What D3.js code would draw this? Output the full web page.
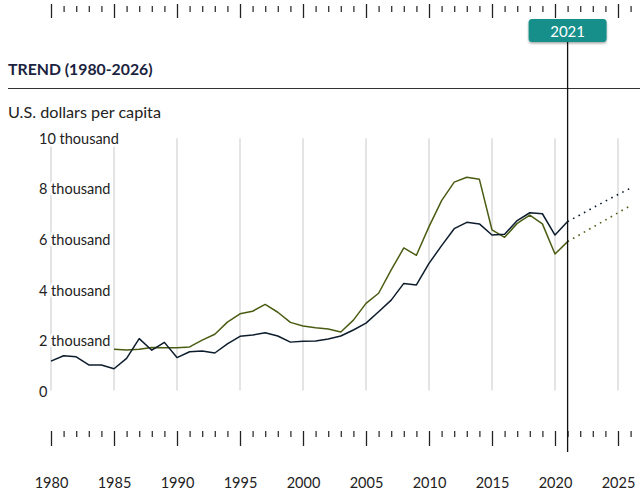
<!DOCTYPE html>
<html>
<head>
<meta charset="utf-8">
<script src="https://cdn.jsdelivr.net/npm/d3@7"></script>
<style>
  html, body { margin: 0; padding: 0; background: #fff; }
  svg { display: block; font-family: Lato, "Open Sans", sans-serif; }
</style>
</head>
<body>
<svg id="chart" width="640" height="500"></svg>
<script>
// ---- data (U.S. dollars per capita) ----
const yearsA = d3.range(1980, 2022);
const seriesA = [1200, 1410, 1370, 1050, 1050, 900, 1310, 2090, 1630, 1940,
  1340, 1570, 1600, 1520, 1880, 2180, 2230, 2320, 2190, 1950,
  1980, 1990, 2070, 2190, 2430, 2700, 3150, 3610, 4270, 4210,
  5060, 5760, 6430, 6680, 6620, 6180, 6210, 6750, 7060, 7020,
  6180, 6710];
const yearsB = d3.range(1985, 2022);
const seriesB = [1670, 1640, 1670, 1740, 1730, 1730, 1760, 2030, 2260, 2740,
  3070, 3170, 3440, 3130, 2730, 2590, 2520, 2470, 2350, 2820,
  3480, 3880, 4800, 5670, 5380, 6510, 7540, 8270, 8460, 8380,
  6380, 6090, 6640, 6970, 6620, 5430, 5920];
const projYears = [2021, 2022, 2023, 2024, 2025, 2026];
const projA = [6710, 6980, 7250, 7520, 7780, 8030];
const projB = [5920, 6200, 6490, 6770, 7060, 7340];
const yTickValues = [0, 2000, 4000, 6000, 8000, 10000];
const yTickLabels = ["0", "2 thousand", "4 thousand", "6 thousand", "8 thousand", "10 thousand"];
const gridYears = d3.range(1980, 2030, 5);
const currentYear = 2021;
const title = "TREND (1980-2026)";
const unitLabel = "U.S. dollars per capita";

// ---- layout ----
const svg = d3.select("#chart");
const x = d3.scaleLinear().domain([1980, 2025]).range([51, 618]);
const y = d3.scaleLinear().domain([0, 10000]).range([391.5, 138.3]);
const colA = "#0c1c2c";
const colB = "#4a5c12";
const textCol = "#222";

// gridlines
svg.append("g").selectAll("line").data(gridYears).join("line")
  .attr("x1", d => x(d)).attr("x2", d => x(d))
  .attr("y1", y(10000)).attr("y2", y(0) - 1)
  .attr("stroke", "#c9c9c9").attr("stroke-width", 1);

// y labels with white halo
svg.append("g").selectAll("text").data(yTickValues).join("text")
  .attr("x", 39).attr("y", d => y(d))
  .attr("dominant-baseline", "central")
  .attr("font-size", 14.5).attr("fill", textCol)
  .attr("stroke", "#fff").attr("stroke-width", 5).attr("paint-order", "stroke")
  .text((d, i) => yTickLabels[i]);

// lines
const lineGen = d3.line().x(d => x(d[0])).y(d => y(d[1]));
svg.append("path").datum(yearsB.map((yr, i) => [yr, seriesB[i]]))
  .attr("d", lineGen).attr("fill", "none").attr("stroke", colB).attr("stroke-width", 1.5)
  .attr("stroke-linejoin", "round");
svg.append("path").datum(yearsA.map((yr, i) => [yr, seriesA[i]]))
  .attr("d", lineGen).attr("fill", "none").attr("stroke", colA).attr("stroke-width", 1.5)
  .attr("stroke-linejoin", "round");
svg.append("path").datum(projYears.map((yr, i) => [yr, projA[i]]))
  .attr("d", lineGen).attr("fill", "none").attr("stroke", colA).attr("stroke-width", 1.6)
  .attr("stroke-dasharray", "1.6,4.6");
svg.append("path").datum(projYears.map((yr, i) => [yr, projB[i]]))
  .attr("d", lineGen).attr("fill", "none").attr("stroke", colB).attr("stroke-width", 1.6)
  .attr("stroke-dasharray", "1.6,4.6");

// bottom axis
const xAxisMajor = d3.axisBottom(x).tickValues(gridYears).tickSize(15).tickFormat(d3.format("d"));
const gBottom = svg.append("g").attr("transform", "translate(0,431)");
gBottom.call(xAxisMajor);
gBottom.select(".domain").remove();
gBottom.selectAll(".tick line").attr("stroke", "#222").attr("stroke-width", 1.3);
gBottom.selectAll(".tick text").attr("font-size", 14.5).attr("fill", textCol)
  .attr("font-family", "Lato, sans-serif").attr("y", 51).attr("dy", null)
  .attr("dominant-baseline", "central");
const minorYears = d3.range(1980, 2027).filter(d => d % 5 !== 0);
const gBottomMinor = svg.append("g").attr("transform", "translate(0,431)");
gBottomMinor.call(d3.axisBottom(x).tickValues(minorYears).tickSize(6).tickFormat(""));
gBottomMinor.select(".domain").remove();
gBottomMinor.selectAll(".tick line").attr("stroke", "#333").attr("stroke-width", 1.3);

// top axis
const gTop = svg.append("g").attr("transform", "translate(0,4)");
gTop.call(d3.axisBottom(x).tickValues(gridYears).tickSize(14).tickFormat(""));
gTop.select(".domain").remove();
gTop.selectAll(".tick line").attr("stroke", "#222").attr("stroke-width", 1.3);
const gTopMinor = svg.append("g").attr("transform", "translate(0,6)");
gTopMinor.call(d3.axisBottom(x).tickValues(minorYears).tickSize(6).tickFormat(""));
gTopMinor.select(".domain").remove();
gTopMinor.selectAll(".tick line").attr("stroke", "#333").attr("stroke-width", 1.3);

// header
svg.append("text").attr("x", 8).attr("y", 68).attr("dominant-baseline", "central")
  .attr("font-size", 15.8).attr("font-weight", "bold").attr("fill", "#1b2340")
  .text(title);
svg.append("line").attr("x1", 8).attr("x2", 640).attr("y1", 88.5).attr("y2", 88.5)
  .attr("stroke", "#333").attr("stroke-width", 1.2);
svg.append("text").attr("x", 8).attr("y", 111).attr("dominant-baseline", "central")
  .attr("font-size", 16.2).attr("fill", textCol).text(unitLabel);

// current year marker
const cx = x(currentYear);
svg.append("line").attr("x1", cx).attr("x2", cx).attr("y1", 42).attr("y2", 452)
  .attr("stroke", "#111").attr("stroke-width", 1.3);
const defs = svg.append("defs");
const f = defs.append("filter").attr("id", "sh").attr("x", "-20%").attr("y", "-30%").attr("width", "140%").attr("height", "170%");
f.append("feDropShadow").attr("dx", 0).attr("dy", 1.5).attr("stdDeviation", 1.2).attr("flood-color", "#000").attr("flood-opacity", 0.35);
svg.append("rect").attr("x", cx - 39).attr("y", 19).attr("width", 78).attr("height", 23)
  .attr("rx", 3.5).attr("fill", "#138f8a").attr("filter", "url(#sh)");
svg.append("text").attr("x", cx).attr("y", 31).attr("text-anchor", "middle")
  .attr("dominant-baseline", "central").attr("font-size", 15).attr("fill", "#fff")
  .text(currentYear);
</script>
</body>
</html>
